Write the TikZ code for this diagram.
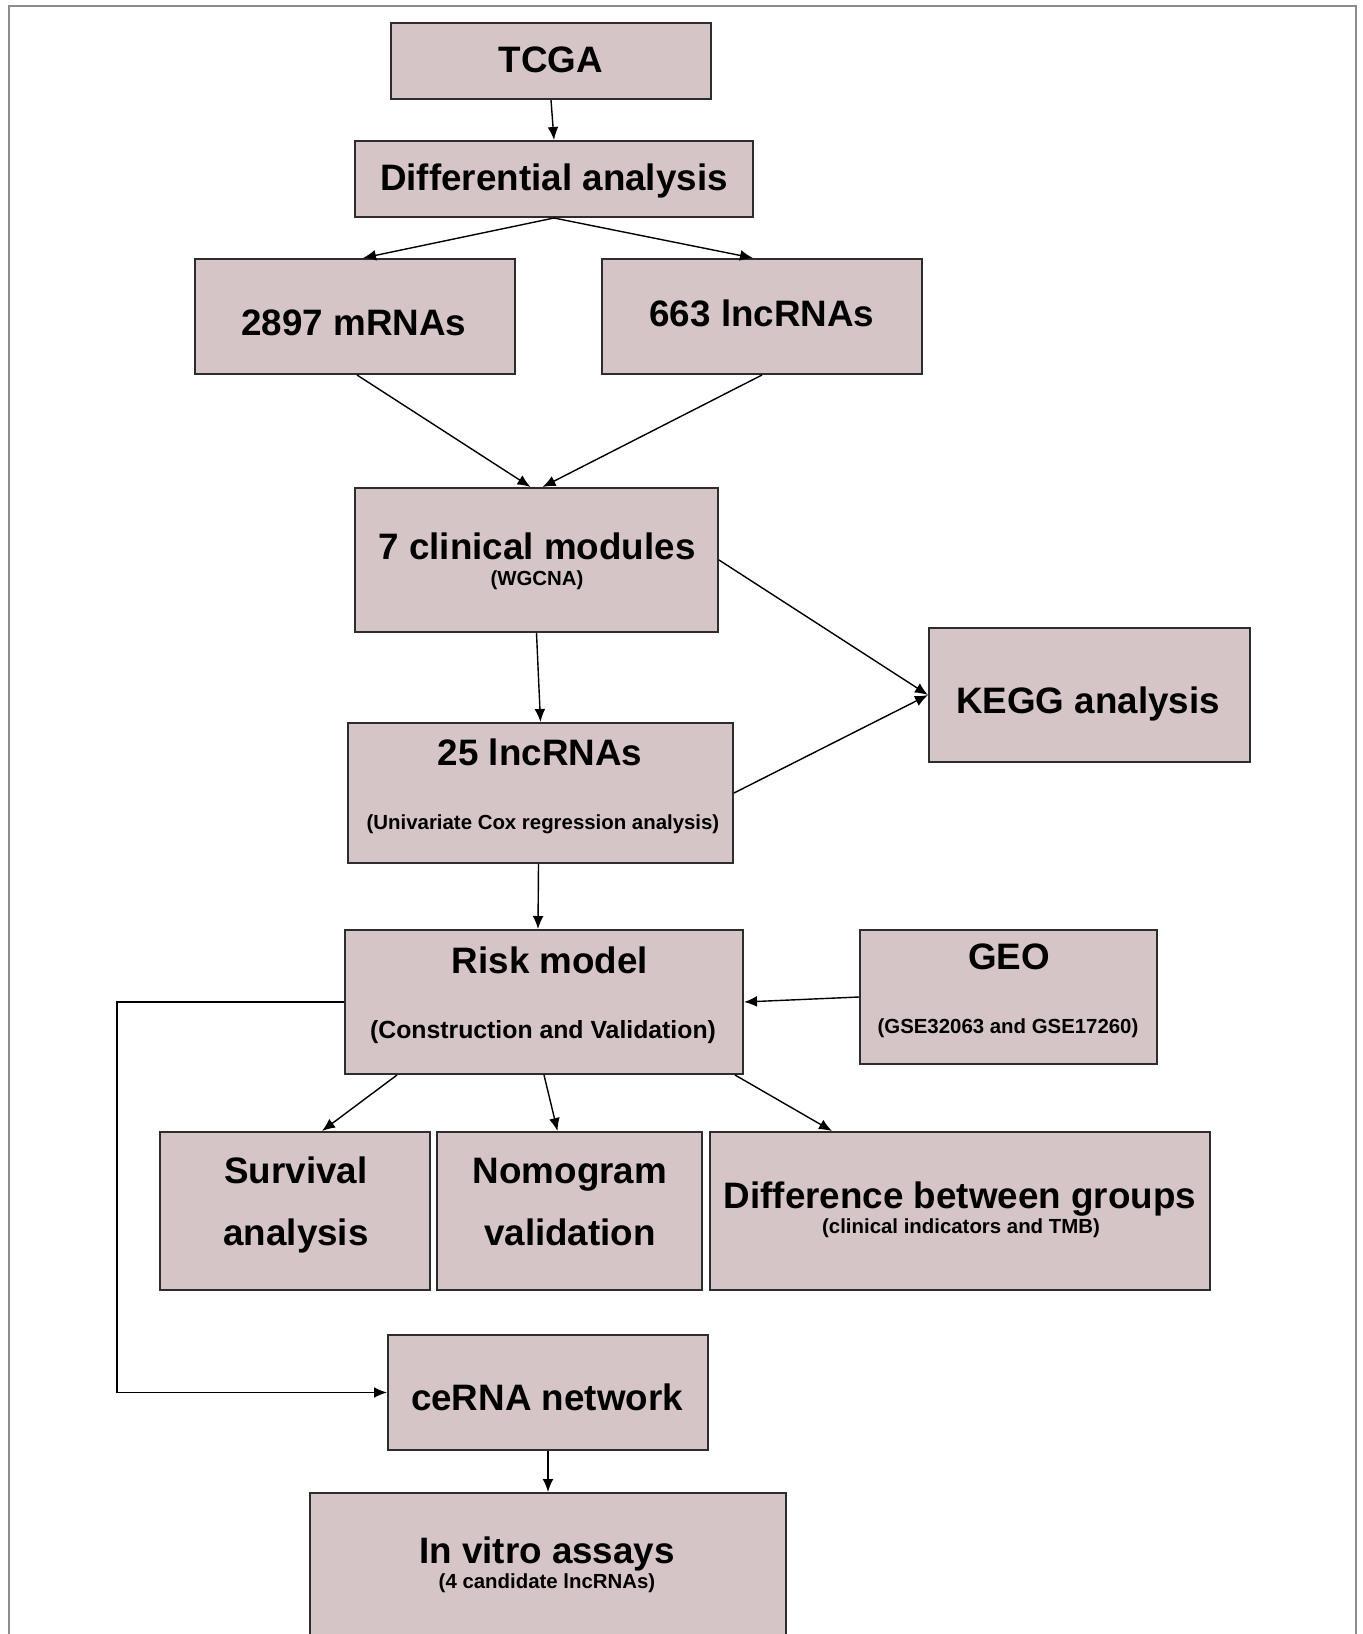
\documentclass[tikz,border=0pt]{standalone}
\usepackage{fontspec}
\setmainfont{Liberation Sans}
\usepackage{tikz}
\usetikzlibrary{arrows.meta,calc}
\definecolor{boxfill}{RGB}{213,197,198}
\definecolor{boxline}{RGB}{45,45,45}
\definecolor{framegray}{RGB}{140,140,140}
\tikzset{
  flowbox/.style={draw=boxline,fill=boxfill,line width=1pt,inner sep=0pt},
  headtext/.style={font=\bfseries\fontsize{18.4pt}{22pt}\selectfont,anchor=base,inner sep=0pt},
  midtext/.style={font=\bfseries\fontsize{12.4pt}{15pt}\selectfont,anchor=base,inner sep=0pt},
  subtext/.style={font=\bfseries\fontsize{10.2pt}{12pt}\selectfont,anchor=base,inner sep=0pt},
  flowarrow/.style={-{Latex[length=6.5pt,width=5.4pt]},line width=0.7pt,draw=black}
}

\begin{document}
\begin{tikzpicture}[x=0.5pt,y=-0.5pt]
  \useasboundingbox (0,0) rectangle (1362,1634);
  \clip (0,0) rectangle (1362,1634);
  \draw[framegray,line width=0.75pt]
    (9,1660)--(9,6)--(1356,6)--(1356,1660);

  % boxes
  \node[flowbox,minimum width=160pt,minimum height=38pt] (tcga) at (551,61) {};
  \node[flowbox,minimum width=199pt,minimum height=38pt] (diff) at (554,179) {};
  \node[flowbox,minimum width=160pt,minimum height=57.5pt] (mrna) at (355,316.5) {};
  \node[flowbox,minimum width=160pt,minimum height=57.5pt] (lnc) at (762,316.5) {};
  \node[flowbox,minimum width=181.5pt,minimum height=72pt] (clin) at (536.5,560) {};
  \node[flowbox,minimum width=192.5pt,minimum height=70pt] (lnc25) at (540.5,793) {};
  \node[flowbox,minimum width=160.5pt,minimum height=67pt] (kegg) at (1089.5,695) {};
  \node[flowbox,minimum width=199pt,minimum height=72pt] (risk) at (544,1002) {};
  \node[flowbox,minimum width=148.5pt,minimum height=67pt] (geo) at (1008.5,997) {};
  \node[flowbox,minimum width=135pt,minimum height=79pt] (surv) at (295,1211) {};
  \node[flowbox,minimum width=132.5pt,minimum height=79pt] (nomo) at (569.5,1211) {};
  \node[flowbox,minimum width=250pt,minimum height=79pt] (grp) at (960,1211) {};
  \node[flowbox,minimum width=160pt,minimum height=57.5pt] (cerna) at (548,1392.5) {};
  \node[flowbox,minimum width=238pt,minimum height=90pt] (vitro) at (548,1583) {};

  % texts
  \node[headtext] (tcga-t) at (551,72) {TCGA};
  \node[headtext] (diff-t) at (554,190) {Differential analysis};
  \node[headtext] (mrna-t) at (354,335) {2897 mRNAs};
  \node[headtext] (lnc-t) at (762,326) {663 lncRNAs};
  \node[headtext] (clin-t) at (537,559) {7 clinical modules};
  \node[subtext] (clin-s) at (537,585) {(WGCNA)};
  \node[headtext] (lnc25-t) at (540,765) {25 lncRNAs};
  \node[subtext] (lnc25-s) at (543,829) {(Univariate Cox regression analysis)};
  \node[headtext] (kegg-t) at (1088,713) {KEGG analysis};
  \node[headtext] (risk-t) at (550,973) {Risk model};
  \node[midtext] (risk-s) at (543,1038) {(Construction and Validation)};
  \node[headtext] (geo-t) at (1009,969) {GEO};
  \node[subtext] (geo-s) at (1008,1033) {(GSE32063 and GSE17260)};
  \node[headtext] (surv-t) at (296,1183) {Survival};
  \node[headtext] (surv-u) at (296,1245) {analysis};
  \node[headtext] (nomo-t) at (570,1183) {Nomogram};
  \node[headtext] (nomo-u) at (570,1245) {validation};
  \node[headtext] (grp-t) at (960,1208) {Difference between groups};
  \node[subtext] (grp-s) at (961,1233) {(clinical indicators and TMB)};
  \node[headtext] (cerna-t) at (547,1410) {ceRNA network};
  \node[headtext] (vitro-t) at (547,1563) {In vitro assays};
  \node[subtext] (vitro-s) at (547,1588) {(4 candidate lncRNAs)};

  % connectors
  \draw[flowarrow] (tcga.south)--(diff.north);
  \draw[flowarrow] (diff.south)--($(mrna.north)+(8,0)$);
  \draw[flowarrow] (diff.south)--($(lnc.north)+(-9,0)$);
  \draw[flowarrow] ($(mrna.south)+(2,0)$)--($(clin.north)+(-6,0)$);
  \draw[flowarrow] (lnc.south)--($(clin.north)+(6,0)$);
  \draw[flowarrow] (clin.south)--(lnc25.north);
  \draw[flowarrow] (clin.east)--(kegg.west);
  \draw[flowarrow] (lnc25.east)--(kegg.west);
  \draw[flowarrow] ($(lnc25.south)+(-2,0)$)--($(risk.north)+(-6,0)$);
  \draw[flowarrow] (geo.west)--(risk.east);
  \draw[flowarrow] ($(risk.south)+(-147,0)$)--($(surv.north)+(27,0)$);
  \draw[flowarrow] (risk.south)--($(nomo.north)+(-12,0)$);
  \draw[flowarrow] ($(risk.south)+(191,0)$)--($(grp.north)+(-128,0)$);
  \coordinate (loop) at (117,1002);
  \draw[flowarrow] (risk.west)--(loop)|-(cerna.west);
  \draw[flowarrow] (cerna.south)--(vitro.north);
\end{tikzpicture}
\end{document}
